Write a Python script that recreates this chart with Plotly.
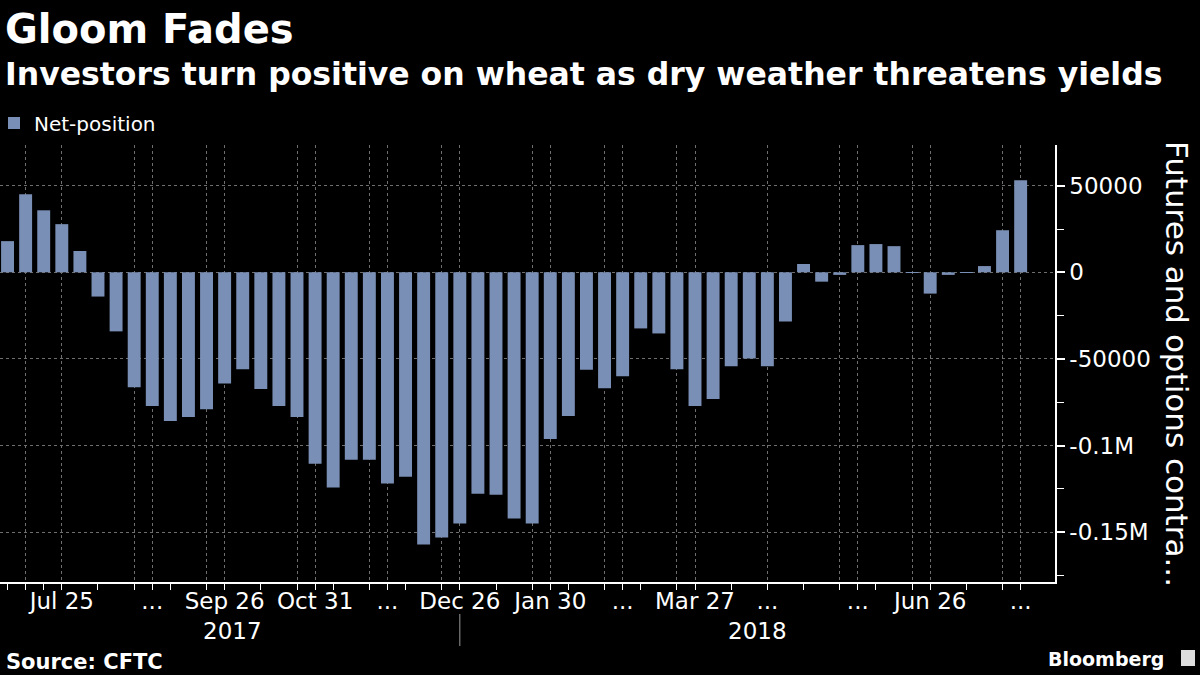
import plotly.graph_objects as go
import pandas as pd

# ---- data -------------------------------------------------------------
WEEK_DATES = pd.date_range("2017-07-04", periods=57, freq="7D")
NET_POSITION = [
    18000, 45000, 35800, 27800, 12300, -14000, -34100, -66300, -77200, -85800,
    -83500, -79100, -64200, -55900, -67400, -77200, -83500, -110500, -124300, -108200,
    -108200, -122000, -118000, -157100, -153100, -145000, -127800, -128400, -142200, -145000,
    -96200, -83000, -56300, -66900, -60000, -32400, -35300, -55900, -77200, -73200,
    -54200, -49800, -54200, -28400, 4800, -5400, -1500, 15700, 16300, 15100,
    -300, -12300, -1500, -300, 3600, 24300, 53100,
]
SERIES_NAME = "Net-position"

GRID_DATES = [
    "2017-07-11", "2017-07-25", "2017-08-22", "2017-08-29", "2017-09-19", "2017-09-26",
    "2017-10-24", "2017-10-31", "2017-11-21", "2017-11-28", "2017-12-19", "2017-12-26",
    "2018-01-23", "2018-01-30", "2018-02-20", "2018-02-27", "2018-03-20", "2018-03-27",
    "2018-04-24", "2018-05-22", "2018-05-29", "2018-06-19", "2018-06-26", "2018-07-24",
    "2018-07-31",
]
GRID_LABELS = [
    "", "Jul 25", "", "...", "", "Sep 26",
    "", "Oct 31", "", "...", "", "Dec 26",
    "", "Jan 30", "", "...", "", "Mar 27",
    "...", "", "...", "", "Jun 26", "",
    "...",
]
MINOR_TICK_DATES = [
    "2017-07-04", "2017-07-18", "2017-08-08", "2017-09-05", "2017-10-10", "2017-11-07",
    "2017-12-05", "2018-01-09", "2018-02-06", "2018-03-06", "2018-04-10", "2018-05-08",
    "2018-06-05", "2018-07-10",
]
YEAR_LABELS = ["2017", "2018"]
YEAR_CENTERS = ["2017-09-29", "2018-04-20"]
YEAR_SPLIT = "2017-12-26"

Y_TICKS = [50000, 0, -50000, -100000, -150000]
Y_TICK_TEXT = ["50000", "0", "-50000", "-0.1M", "-0.15M"]
Y_MINOR = [25000, -25000, -75000, -125000, -175000]

TITLE = "Gloom Fades"
SUBTITLE = "Investors turn positive on wheat as dry weather threatens yields"
Y_TITLE = "Futures and options contra..."
SOURCE = "Source: CFTC"

# ---- layout geometry (pixels) ----------------------------------------
W, H = 1200, 675
PL, PR, PT, PB = 0, 1055, 145, 582
BAR_COLOR = "#7a8fb5"
GRID_COLOR = "#6e6e6e"
FONT = "DejaVu Sans"


def px(x):
    return (x - PL) / (PR - PL)


def py(y):
    return (PB - y) / (PB - PT)


fig = go.Figure()
fig.add_trace(go.Bar(
    x=WEEK_DATES, y=NET_POSITION, name=SERIES_NAME,
    marker=dict(color=BAR_COLOR, line=dict(width=0)),
    width=5.0 * 86400000,
    showlegend=True,
))

fig.update_layout(
    width=W, height=H,
    paper_bgcolor="black", plot_bgcolor="black",
    margin=dict(l=PL, r=W - PR, t=PT, b=H - PB, pad=0, autoexpand=False),
    font=dict(family=FONT, color="white", size=20),
    showlegend=True,
    legend=dict(
        x=px(-6), y=py(123), xanchor="left", yanchor="middle",
        orientation="h", font=dict(size=20, color="white", family=FONT),
        bgcolor="rgba(0,0,0,0)", itemwidth=30,
    ),
    bargap=0.28,
    xaxis=dict(
        type="date",
        range=["2017-07-01 02:00", "2018-08-13 07:00"],
        tickmode="array", tickvals=GRID_DATES, ticktext=GRID_LABELS,
        showgrid=True, gridcolor=GRID_COLOR, griddash="3px,3px", gridwidth=1,
        ticks="outside", ticklen=6, tickcolor="white", tickwidth=1,
        ticklabelstandoff=-8,
        minor=dict(tickmode="array", tickvals=MINOR_TICK_DATES, ticks="outside",
                   ticklen=6, tickcolor="white", tickwidth=1, showgrid=False),
        showline=True, linecolor="white", linewidth=1.5,
        tickfont=dict(size=23, color="white", family=FONT),
        zeroline=False, fixedrange=True, automargin=False,
    ),
    yaxis=dict(
        side="right",
        range=[-178800, 73500],
        tickmode="array", tickvals=Y_TICKS, ticktext=Y_TICK_TEXT,
        showgrid=True, gridcolor=GRID_COLOR, griddash="3px,3px", gridwidth=1,
        ticks="outside", ticklen=8, tickcolor="white", tickwidth=2,
        minor=dict(tickmode="array", tickvals=Y_MINOR, ticks="outside",
                   ticklen=7, tickcolor="white", tickwidth=1, showgrid=False),
        showline=True, linecolor="white", linewidth=1.5,
        tickfont=dict(size=23, color="white", family=FONT),
        zeroline=False, fixedrange=True, automargin=False,
    ),
)

annotations = [
    dict(text="<b>" + TITLE + "</b>", x=px(3), y=py(29), xref="paper", yref="paper",
         xanchor="left", yanchor="middle", showarrow=False,
         font=dict(size=40, color="white", family=FONT)),
    dict(text="<b>" + SUBTITLE + "</b>", x=px(3), y=py(74), xref="paper", yref="paper",
         xanchor="left", yanchor="middle", showarrow=False,
         font=dict(size=31.5, color="white", family=FONT)),
    dict(text=Y_TITLE, x=px(1177), y=py(364), xref="paper", yref="paper",
         xanchor="center", yanchor="middle", textangle=90, showarrow=False,
         font=dict(size=31, color="white", family=FONT)),
    dict(text="<b>" + SOURCE + "</b>", x=px(4), y=py(662), xref="paper", yref="paper",
         xanchor="left", yanchor="middle", showarrow=False,
         font=dict(size=21, color="white", family=FONT)),
    dict(text="<b>Bloomberg</b>", x=px(1166), y=py(659), xref="paper", yref="paper",
         xanchor="right", yanchor="middle", showarrow=False,
         font=dict(size=19, color="white", family=FONT)),
]
for label, center in zip(YEAR_LABELS, YEAR_CENTERS):
    annotations.append(dict(text=label, x=center, y=py(631), xref="x", yref="paper",
                            xanchor="center", yanchor="middle", showarrow=False,
                            font=dict(size=23, color="white", family=FONT)))
fig.update_layout(annotations=annotations)

fig.add_shape(type="line", xref="x", yref="paper", x0=YEAR_SPLIT, x1=YEAR_SPLIT,
              y0=py(614), y1=py(646), line=dict(color="#9a9a9a", width=1))
# small Bloomberg logo mark
fig.add_shape(type="rect", xref="paper", yref="paper", x0=px(1181), x1=px(1195),
              y0=py(666), y1=py(650), fillcolor="#dddddd", line=dict(width=0))

fig.write_html(
    "out.html",
    config={"displayModeBar": False},
    post_script="document.body.style.margin='0';document.body.style.overflow='hidden';",
)
